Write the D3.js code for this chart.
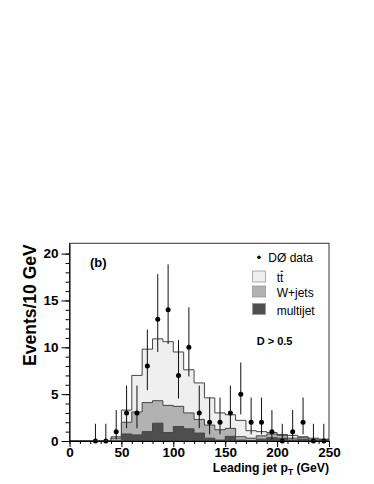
<!DOCTYPE html>
<html>
<head>
<meta charset="utf-8">
<script src="https://cdn.jsdelivr.net/npm/d3@7"></script>
<style>
  body { margin: 0; background: #fff; }
  svg { display: block; font-family: "Liberation Sans", Arial, Helvetica, sans-serif; }
</style>
</head>
<body>
<div id="chart"></div>
<script>
// bin left edges (GeV), 10 GeV wide
const binEdges = [0,10,20,30,40,50,60,70,80,90,100,110,120,130,140,150,160,170,180,190,200,210,220,230,240]
// component contributions per bin (stacked: multijet, W+jets, ttbar)
const multijet = [0,0,0,0,0, 0.75,0.65,1.0,1.9,0.9, 1.55,1.3,0.85,0.3,0.1, 0.5,0.1,0.05,0.2,0.35, 0.3,0.1,0.2,0.05,0.05]
const wjets    = [0,0,0,0,0.3, 1.25,2.45,3.1,2.4,2.9, 2.15,1.7,1.45,1.4,1.1, 0.85,0.36,0.25,0.35,0.4, 0.3,0.2,0.2,0.15,0.1]
const ttbar    = [0,0,0,0,0.15, 1.3,3.9,5.7,6.6,6.8, 5.8,4.6,3.9,2.9,1.8, 1.45,1.74,0.8,0.45,0.15, 0.1,0.3,0.05,0.1,0.05]

// D0 data points
const dataX  = [25,35,45,55,65,75,85,95,105,115,125,135,145,155,165,175,185,195,205,215,225,235,245]
const dataN  = [0,0,1,3,3,8,13,14,7,10,3,2,2,3,5,2,2,1,0,1,2,0,0]
const dataLo = [0,0,0.17,1.37,1.37,5.43,9.5,10.35,4.53,6.9,1.37,0.71,0.71,1.37,2.84,0.71,0.71,0.17,0,0.17,0.71,0,0]
const dataHi = [1.84,1.84,3.3,5.92,5.92,11.9,17.8,18.85,10.77,14.27,5.92,4.64,4.64,5.92,8.38,4.64,4.64,3.3,1.84,3.3,4.64,1.84,1.84]

const yMajor = [0,5,10,15,20]
const xMajor = [0,50,100,150,200,250]

const W = 374, H = 484
const margin = {left: 69.5, right: 45, top: 243.3, bottom: 43}

const svg = d3.select("#chart").append("svg")
    .attr("width", W)
    .attr("height", H)

const x = d3.scaleLinear().domain([0, 250]).range([margin.left, W - margin.right])
const y = d3.scaleLinear().domain([0, 21.1]).range([H - margin.bottom, margin.top])

// stacked histogram
const table = binEdges.map((e, i) => ({edge: e, multijet: multijet[i], wjets: wjets[i], ttbar: ttbar[i]}))
const stack = d3.stack().keys(["multijet", "wjets", "ttbar"])(table)
const fills = {multijet: "#4e4e4e", wjets: "#b2b2b2", ttbar: "#efefef"}

const area = d3.area()
    .curve(d3.curveStepAfter)
    .x(d => x(d.x))
    .y0(y(0))
    .y1(d => y(d.v))
const line = d3.line()
    .curve(d3.curveStepAfter)
    .x(d => x(d.x))
    .y(d => y(d.v))

// draw top layer first so lower ones sit on top
stack.slice().reverse().forEach(layer => {
    const pts = layer.map(d => ({x: d.data.edge, v: d[1]}))
    pts.push({x: 250, v: pts[pts.length - 1].v})
    svg.append("path").attr("d", area(pts)).attr("fill", fills[layer.key])
    svg.append("path").attr("d", line(pts))
        .attr("fill", "none").attr("stroke", "#454545").attr("stroke-width", 1)
})

// data error bars and points
const g = svg.append("g")
dataX.forEach((v, i) => {
    g.append("line")
        .attr("x1", x(v)).attr("x2", x(v))
        .attr("y1", y(dataLo[i])).attr("y2", y(dataHi[i]))
        .attr("stroke", "#111").attr("stroke-width", 1)
    g.append("circle")
        .attr("cx", x(v)).attr("cy", y(dataN[i])).attr("r", 2.5)
        .attr("fill", "#000")
})

// frame
svg.append("rect")
    .attr("x", x(0)).attr("y", y(21.1))
    .attr("width", x(250) - x(0)).attr("height", y(0) - y(21.1))
    .attr("fill", "none").attr("stroke", "#333").attr("stroke-width", 1)

// y axis
const yAxis = svg.append("g").attr("transform", `translate(${x(0)},0)`)
    .call(d3.axisLeft(y).tickValues(yMajor).tickSize(8).tickPadding(3).tickSizeOuter(0))
yAxis.select(".domain").attr("stroke", "#000")
yAxis.selectAll("text").attr("font-size", 13.5).attr("font-weight", "bold").attr("fill", "#000")
    .attr("font-family", "Liberation Sans, Arial, sans-serif")
svg.append("g").attr("transform", `translate(${x(0)},0)`)
    .call(d3.axisLeft(y).tickValues(d3.range(0, 21, 1)).tickSize(4).tickFormat("").tickSizeOuter(0))
    .select(".domain").remove()

// x axis
const xAxis = svg.append("g").attr("transform", `translate(0,${y(0)})`)
    .call(d3.axisBottom(x).tickValues(xMajor).tickSize(6).tickSizeOuter(0))
xAxis.select(".domain").attr("stroke", "#000")
xAxis.selectAll("text").attr("font-size", 13.5).attr("font-weight", "bold").attr("fill", "#000")
    .attr("font-family", "Liberation Sans, Arial, sans-serif")
    .attr("dy", null).attr("y", 15.5)
svg.append("g").attr("transform", `translate(0,${y(0)})`)
    .call(d3.axisBottom(x).tickValues(d3.range(0, 251, 10)).tickSize(3).tickFormat("").tickSizeOuter(0))
    .select(".domain").remove()

// axis titles
const xt = svg.append("text")
    .attr("x", x(250)).attr("y", 471.5)
    .attr("text-anchor", "end")
    .attr("font-size", 12.2).attr("font-weight", "bold")
xt.append("tspan").text("Leading jet p")
xt.append("tspan").attr("font-size", 8.5).attr("dy", 3).text("T")
xt.append("tspan").attr("dy", -3).text(" (GeV)")

svg.append("text")
    .attr("transform", `translate(36,${y(21.1) + 1}) rotate(-90)`)
    .attr("text-anchor", "end")
    .attr("font-size", 17.5).attr("font-weight", "bold")
    .text("Events/10 GeV")

// labels inside
svg.append("text").attr("x", 90).attr("y", 267.3)
    .attr("font-size", 13).attr("font-weight", "bold").text("(b)")
svg.append("text").attr("x", 256.7).attr("y", 345)
    .attr("font-size", 11).attr("font-weight", "bold").text("D > 0.5")

// legend
const leg = svg.append("g")
leg.append("circle").attr("cx", 259).attr("cy", 257.3).attr("r", 1.8).attr("fill", "#000")
leg.append("text").attr("x", 268.3).attr("y", 261.5).attr("font-size", 12).text("DØ data")

const legItems = [
    {key: "ttbar", y: 271},
    {key: "wjets", y: 286},
    {key: "multijet", y: 303.5}
]
legItems.forEach(d => {
    leg.append("rect").attr("x", 252.5).attr("y", d.y).attr("width", 13).attr("height", 11)
        .attr("fill", fills[d.key]).attr("stroke", "#999").attr("stroke-width", 0.8)
})
const tt = leg.append("text").attr("x", 276.7).attr("y", 281.5).attr("font-size", 12).text("tt")
const ttw = tt.node().getComputedTextLength()
leg.append("line")
    .attr("x1", 276.7 + ttw / 2 + 0.5).attr("x2", 276.7 + ttw - 0.2)
    .attr("y1", 271.3).attr("y2", 271.3)
    .attr("stroke", "#000").attr("stroke-width", 1)
leg.append("text").attr("x", 276.7).attr("y", 297.3).attr("font-size", 12).text("W+jets")
leg.append("text").attr("x", 276.7).attr("y", 314.5).attr("font-size", 12).text("multijet")
</script>
</body>
</html>
